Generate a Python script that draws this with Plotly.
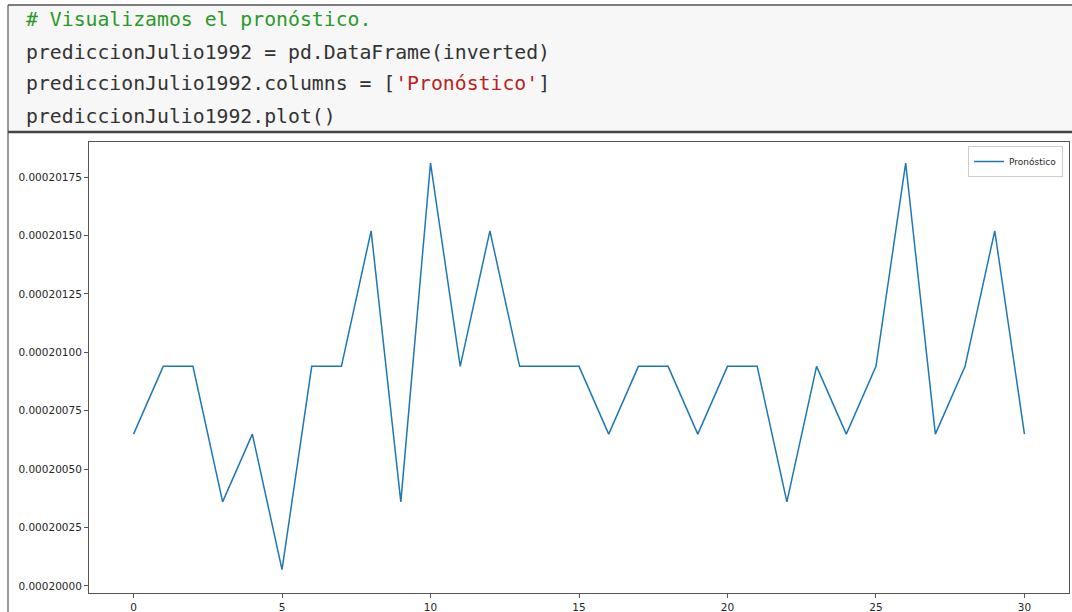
import plotly.graph_objects as go

# Forecast for July 1992 (one value per day index)
dias = list(range(31))
pronostico = [
    0.00020065, 0.00020094, 0.00020094, 0.00020036, 0.00020065,
    0.00020007, 0.00020094, 0.00020094, 0.00020152, 0.00020036,
    0.00020181, 0.00020094, 0.00020152, 0.00020094, 0.00020094,
    0.00020094, 0.00020065, 0.00020094, 0.00020094, 0.00020065,
    0.00020094, 0.00020094, 0.00020036, 0.00020094, 0.00020065,
    0.00020094, 0.00020181, 0.00020065, 0.00020094, 0.00020152,
    0.00020065,
]
y_ticks = [0.00020000, 0.00020025, 0.00020050, 0.00020075,
           0.00020100, 0.00020125, 0.00020150, 0.00020175]
y_labels = ["%.8f" % v for v in y_ticks]
x_ticks = [0, 5, 10, 15, 20, 25, 30]
nombre_serie = "Pronóstico"

W, H = 1072, 612


def px_x(p):
    return p / W


def px_y(p):
    return 1 - p / H


fig = go.Figure()
fig.add_trace(go.Scatter(
    x=dias, y=pronostico, mode="lines", name=nombre_serie,
    line=dict(color="#1f77b4", width=1.5),
))

axis_common = dict(
    showgrid=False, zeroline=False, showline=True, mirror=True,
    linecolor="#555555", linewidth=1, ticks="outside", ticklen=4,
    tickcolor="#555555", tickfont=dict(family="DejaVu Sans", size=10.5, color="#262626"),
)

fig.update_layout(
    width=W, height=H,
    margin=dict(l=0, r=0, t=0, b=0),
    paper_bgcolor="white", plot_bgcolor="white",
    xaxis=dict(domain=[px_x(89), px_x(1069)], range=[-1.5, 31.5],
               tickvals=x_ticks, **axis_common),
    yaxis=dict(domain=[px_y(593), px_y(142)], range=[0.00019997, 0.00020190],
               tickvals=y_ticks, ticktext=y_labels, **axis_common),
    showlegend=True,
    legend=dict(
        x=px_x(1063), y=px_y(146), xanchor="right", yanchor="top",
        bgcolor="white", bordercolor="#cccccc", borderwidth=1,
        font=dict(family="DejaVu Sans", size=9, color="#262626"),
        itemwidth=30, tracegroupgap=0,
    ),
)

# Notebook input cell behind the figure
shapes = [
    dict(type="rect", xref="paper", yref="paper",
         x0=px_x(8), x1=px_x(1075), y0=px_y(132), y1=px_y(5),
         fillcolor="#f7f7f7", line=dict(width=0), layer="below"),
    dict(type="line", xref="paper", yref="paper",
         x0=px_x(8), x1=px_x(1075), y0=px_y(5), y1=px_y(5),
         line=dict(color="#555555", width=1.5)),
    dict(type="line", xref="paper", yref="paper",
         x0=px_x(8), x1=px_x(1075), y0=px_y(132), y1=px_y(132),
         line=dict(color="#444444", width=2.5)),
    dict(type="line", xref="paper", yref="paper",
         x0=px_x(8), x1=px_x(8), y0=px_y(5), y1=px_y(615),
         line=dict(color="#555555", width=1.2)),
]
fig.update_layout(shapes=shapes)

code_font = dict(family="DejaVu Sans Mono", size=19.8, color="#333333")
code_lines = [
    (20, '<span style="color:#2a9a2a"># Visualizamos el pronóstico.</span>'),
    (52, 'prediccionJulio1992 = pd.DataFrame(inverted)'),
    (84, 'prediccionJulio1992.columns = [<span style="color:#ba2121">\'Pronóstico\'</span>]'),
    (116, 'prediccionJulio1992.plot()'),
]
for ypix, txt in code_lines:
    fig.add_annotation(
        xref="paper", yref="paper", x=px_x(24), y=px_y(ypix),
        xanchor="left", yanchor="middle", showarrow=False,
        text=txt, font=code_font,
    )

fig.write_html("out.html")
